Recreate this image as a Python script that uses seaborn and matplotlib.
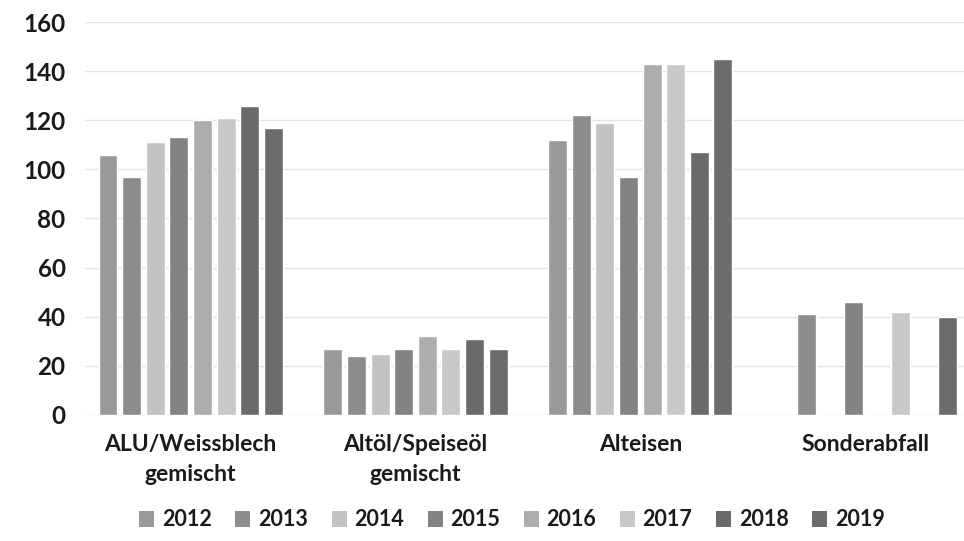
import numpy as np
import pandas as pd
import matplotlib
matplotlib.use("Agg")
import matplotlib.pyplot as plt
import seaborn as sns
from matplotlib.patches import Patch

categories = ["ALU/Weissblech\ngemischt", "Altöl/Speiseöl\ngemischt", "Alteisen", "Sonderabfall"]
years = ["2012", "2013", "2014", "2015", "2016", "2017", "2018", "2019"]

alu_weissblech = [106, 97, 111, 113, 120, 121, 126, 117]
altoel_speiseoel = [27, 24, 25, 27, 32, 27, 31, 27]
alteisen = [112, 122, 119, 97, 143, 143, 107, 145]
sonderabfall = [np.nan, 41, np.nan, 46, np.nan, 42, np.nan, 40]

year_colors = ["#999999", "#8c8c8c", "#c2c2c2", "#838383",
               "#adadad", "#c8c8c8", "#6a6a6a", "#6c6c6c"]

rows = []
for cat, vals in zip(categories, [alu_weissblech, altoel_speiseoel, alteisen, sonderabfall]):
    for yr, v in zip(years, vals):
        rows.append({"Kategorie": cat, "Jahr": yr, "Menge": v})
df = pd.DataFrame(rows)

sns.set_theme(style="white")
plt.rcParams["font.family"] = ["Lato", "DejaVu Sans"]
plt.rcParams["font.weight"] = "bold"

fig = plt.figure(figsize=(9.64, 5.41), dpi=100)
ax = fig.add_axes([85 / 964, 126 / 541, 879 / 964, 393 / 541])

sns.barplot(data=df, x="Kategorie", y="Menge", hue="Jahr", order=categories,
            hue_order=years, palette=year_colors, width=0.84, gap=0.2,
            saturation=1, errorbar=None, legend=False, ax=ax)

ax.set_xlim(-0.47, 3.44)
ax.set_ylim(0, 160)
ax.set_yticks(np.arange(0, 161, 20))
ax.yaxis.grid(True, color="#e3e3e3", linewidth=1.0)
ax.set_axisbelow(True)
for s in ax.spines.values():
    s.set_visible(False)
ax.set_xlabel("")
ax.set_ylabel("")
ax.tick_params(axis="y", length=0, pad=14, labelsize=17.5, labelcolor="#1a1a1a")
ax.tick_params(axis="x", length=0, pad=14, labelsize=16.5, labelcolor="#1a1a1a")
for lbl in ax.get_xticklabels() + ax.get_yticklabels():
    lbl.set_fontweight("bold")
    lbl.set_linespacing(1.5)

handles = [Patch(facecolor=c, edgecolor="none", label=y) for c, y in zip(year_colors, years)]
fig.legend(handles=handles, loc="center", bbox_to_anchor=(512 / 964, 1 - 520 / 541),
           ncol=8, frameon=False, handlelength=0.7, handleheight=0.7,
           handletextpad=0.35, columnspacing=1.1,
           prop={"size": 15.5, "weight": "bold"}, labelcolor="#1a1a1a")

fig.savefig("out.png", dpi=100, facecolor="white")
